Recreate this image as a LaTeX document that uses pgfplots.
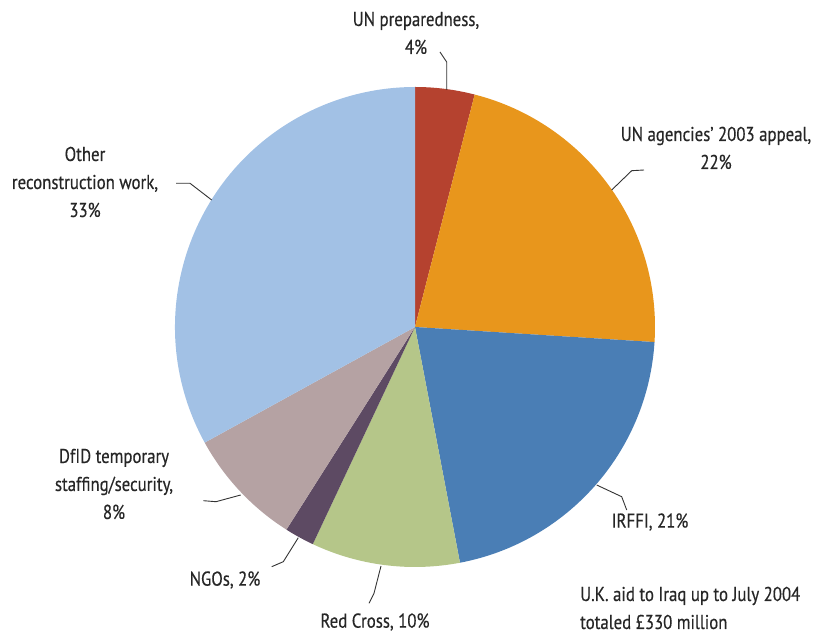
\documentclass[border=0pt]{standalone}
\usepackage{pgfplots}
\usepackage{pgfplotstable}
\pgfplotsset{compat=1.18}
\usepackage{fontspec}
\setmainfont{PT Sans}[FakeStretch=0.84, FakeBold=0.4]

\definecolor{slice0}{HTML}{B5422F}
\definecolor{slice1}{HTML}{E8961C}
\definecolor{slice2}{HTML}{4A7EB5}
\definecolor{slice3}{HTML}{B5C689}
\definecolor{slice4}{HTML}{5D4A63}
\definecolor{slice5}{HTML}{B5A2A3}
\definecolor{slice6}{HTML}{A2C1E5}
\definecolor{txt}{HTML}{262626}
\definecolor{lead}{HTML}{333333}

% shares in percent, clockwise from 12 o'clock
\pgfplotstableread{
name value
UNprep 4
UNagencies 22
IRFFI 21
RedCross 10
NGOs 2
DfID 8
Other 33
}\piedata

\begin{document}
\begin{tikzpicture}[
    lbl/.style={font=\fontsize{20}{28}\selectfont, text=txt, inner sep=0pt, align=center},
  ]
% cumulative angles for every slice
\pgfplotstablegetrowsof{\piedata}
\pgfmathtruncatemacro\lastrow{\pgfplotsretval-1}
\xdef\cumangle{90}
\foreach \i in {0,...,\lastrow}{
  \pgfplotstablegetelem{\i}{value}\of\piedata
  \pgfmathsetmacro\endang{\cumangle-3.6*\pgfplotsretval}
  \expandafter\xdef\csname sA\i\endcsname{\cumangle}
  \expandafter\xdef\csname eA\i\endcsname{\endang}
  \xdef\cumangle{\endang}
}
\begin{axis}[
    scale only axis,
    width=817pt, height=637pt,
    xmin=0, xmax=817, ymin=0, ymax=637,
    hide axis, clip=false,
  ]
  \path (axis cs:0,0) rectangle (axis cs:817,637);
  \pgfplotsinvokeforeach{0,...,6}{
    \fill[slice#1] (axis cs:415,310) -- ++(\csname sA#1\endcsname:240pt)
      arc[start angle=\csname sA#1\endcsname, end angle=\csname eA#1\endcsname, radius=240pt] -- cycle;
  }
  % leader lines
  \begin{scope}[lead, line width=0.9pt]
    \draw (axis cs:446.7,547) -- (axis cs:446.7,575) -- (axis cs:440,585);
    \draw (axis cs:611.7,447) -- (axis cs:631.7,466.3) -- (axis cs:644,467);
    \draw (axis cs:211.7,437) -- (axis cs:190,453.7) -- (axis cs:176,453.7);
    \draw (axis cs:240.7,142) -- (axis cs:216,135.3) -- (axis cs:203.3,136.3);
    \draw (axis cs:298.3,99.3) -- (axis cs:283.3,75.3) -- (axis cs:271.7,70.3);
    \draw (axis cs:381,71) -- (axis cs:374,43.7) -- (axis cs:369,33.7);
    \draw (axis cs:596.7,152) -- (axis cs:621.7,140.3) -- (axis cs:626.7,127);
  \end{scope}
  % labels
  \node[lbl] at (axis cs:416,604) {UN preparedness,\\4\%};
  \node[lbl] at (axis cs:716,489) {UN agencies’ 2003 appeal,\\22\%};
  \node[lbl] at (axis cs:85,455) {Other\\reconstruction work,\\33\%};
  \node[lbl] at (axis cs:114,153) {DfID temporary\\staffing/security,\\8\%};
  \node[lbl] at (axis cs:225,57) {NGOs, 2\%};
  \node[lbl] at (axis cs:375,15) {Red Cross, 10\%};
  \node[lbl] at (axis cs:650,115) {IRFFI, 21\%};
  \node[lbl, anchor=west, align=left] at (axis cs:580,29) {U.K. aid to Iraq up to July 2004\\totaled £330 million};
\end{axis}
\end{tikzpicture}
\end{document}
